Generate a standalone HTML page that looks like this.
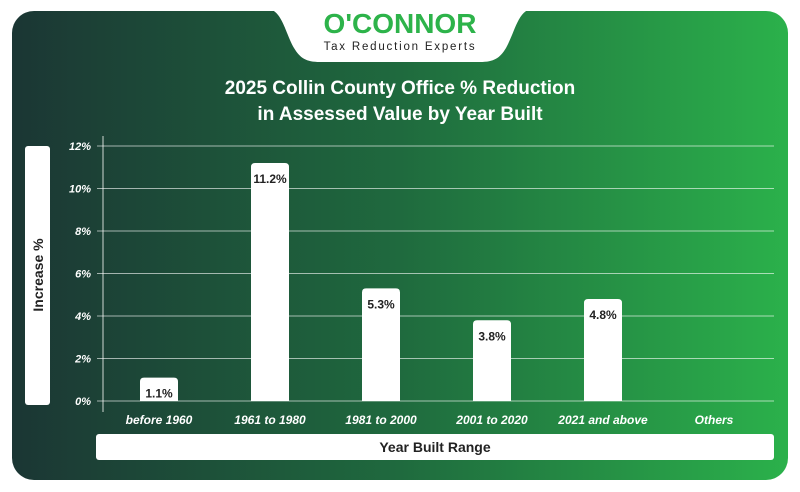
<!DOCTYPE html>
<html><head><meta charset="utf-8">
<style>
body{margin:0;width:800px;height:492px;background:#fff;overflow:hidden;font-family:"Liberation Sans",sans-serif}
svg{display:block}
</style></head><body>
<svg width="800" height="492" viewBox="0 0 800 492">
<defs>
<linearGradient id="bg" x1="0" x2="1" y1="0" y2="0">
<stop offset="0" stop-color="#1b3634"/><stop offset="0.5" stop-color="#1f6a3e"/><stop offset="1" stop-color="#2bb14b"/>
</linearGradient>
</defs>
<rect x="12" y="11" width="776" height="469" rx="22" fill="url(#bg)"/>
<path d="M264,8 C282,8 284,30 294,48 C300,58 306,62 320,62 L480,62 C494,62 500,58 506,48 C516,30 518,8 536,8 Z" fill="#fff"/>
<text x="400" y="33" text-anchor="middle" font-size="28" font-weight="bold" fill="#2db34a">O'CONNOR</text>
<text x="400" y="50" text-anchor="middle" font-size="11.5" fill="#222" letter-spacing="1.8">Tax Reduction Experts</text>
<text x="400" y="94" text-anchor="middle" font-size="19" font-weight="bold" fill="#fff">2025 Collin County Office % Reduction</text>
<text x="400" y="120" text-anchor="middle" font-size="19" font-weight="bold" fill="#fff">in Assessed Value by Year Built</text>
<rect x="25" y="146" width="25" height="259" rx="3" fill="#fff"/>
<text transform="translate(43,275) rotate(-90)" text-anchor="middle" font-size="14" font-weight="bold" fill="#222">Increase %</text>
<rect x="96" y="434" width="678" height="26" rx="3" fill="#fff"/>
<text x="435" y="452" text-anchor="middle" font-size="14" font-weight="bold" fill="#222">Year Built Range</text>
<line x1="103" y1="136" x2="103" y2="412" stroke="#cfd8d2" stroke-width="1"/>
<g id="grid"></g><g id="bars"></g>
</svg>
<script>
const categories=["before 1960","1961 to 1980","1981 to 2000","2001 to 2020","2021 and above","Others"];
const values=[1.1,11.2,5.3,3.8,4.8,null];
const valueLabels=["1.1%","11.2%","5.3%","3.8%","4.8%",""];
const yTicks=[0,2,4,6,8,10,12];
const NS="http://www.w3.org/2000/svg";
const y=v=>401-v*21.25;
const x=i=>159+i*111;
function mk(t,a,p){const e=document.createElementNS(NS,t);for(const k in a)e.setAttribute(k,a[k]);p.appendChild(e);return e;}
const g=document.getElementById('grid'),b=document.getElementById('bars');
yTicks.forEach(t=>{
 const l=mk('line',{x1:97,x2:774,y1:y(t),y2:y(t),stroke:'#ffffff','stroke-opacity':0.6,'stroke-width':1},g);
 
 
 const tx=mk('text',{x:91,y:y(t)+4,'text-anchor':'end','font-size':11,'font-weight':'bold','font-style':'italic',fill:'#fff'},g);
 tx.textContent=t+'%';
 
 
});
categories.forEach((c,i)=>{
 const v=values[i];
 if(v!=null){
  const r=mk('path',{d:`M${x(i)-19},401 V${y(v)+4} Q${x(i)-19},${y(v)} ${x(i)-15},${y(v)} H${x(i)+15} Q${x(i)+19},${y(v)} ${x(i)+19},${y(v)+4} V401 Z`,fill:'#fff'},b);
  
  
  const vl=mk('text',{x:x(i),y:y(v)+20,'text-anchor':'middle','font-size':12,'font-weight':'bold',fill:'#222'},b);
  vl.textContent=valueLabels[i];
  
  
 }
 const cl=mk('text',{x:x(i),y:424,'text-anchor':'middle','font-size':12,'font-weight':'bold','font-style':'italic',fill:'#fff'},b);
 cl.textContent=c;
 
 
});
</script>
</body></html>
